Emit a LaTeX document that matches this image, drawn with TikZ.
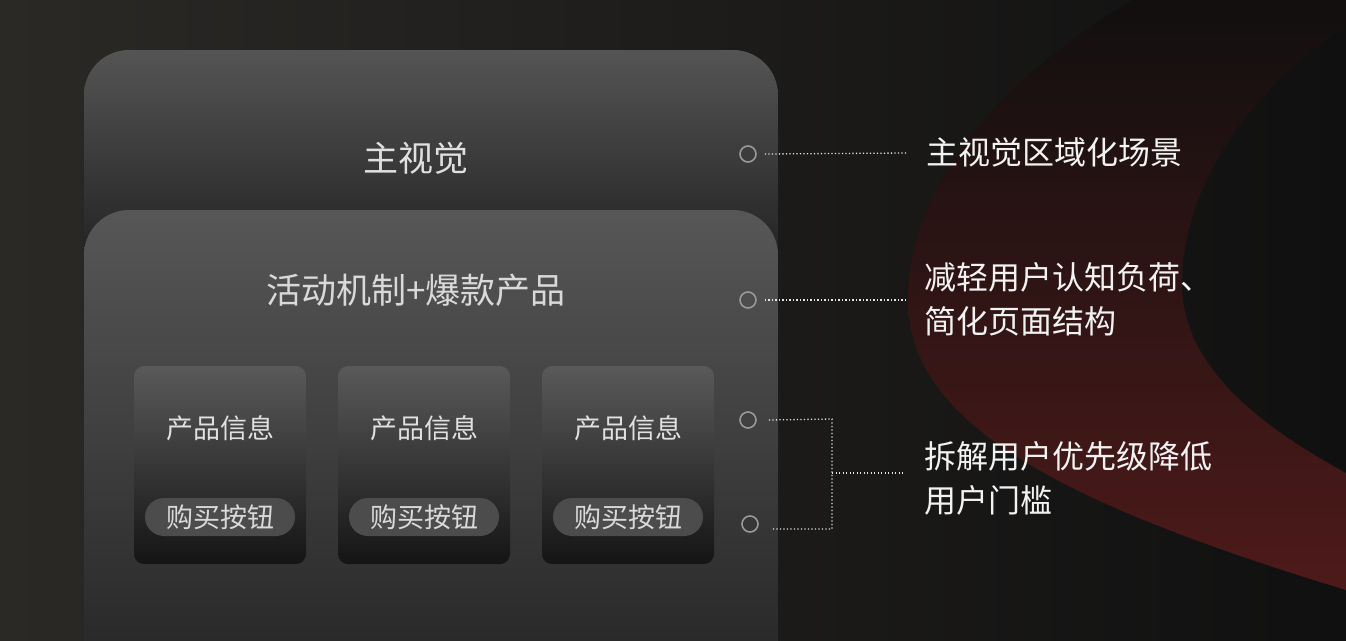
\documentclass[tikz,border=0pt]{standalone}
\usepackage{fontspec}
\setmainfont{Noto Sans CJK SC}
\definecolor{bgl}{RGB}{43,41,38}
\definecolor{bgr}{RGB}{16,16,16}
\definecolor{redl}{RGB}{78,26,26}
\definecolor{redd}{RGB}{18,15,15}
\begin{document}
\begin{tikzpicture}[x=1pt,y=-1pt,
  circ/.style={draw=black!40!white,line width=1.6pt,circle,minimum size=16pt,inner sep=0pt},
  dots/.style={draw=white!90!black,line width=1.3pt,dash pattern=on 1.3pt off 2.2pt},
  card/.style={rounded corners=10pt},
  btn/.style={fill=white!30!black,rounded corners=19pt,minimum width=150pt,minimum height=38pt,text=white!85!black,font=\fontsize{27}{30}\selectfont},
  info/.style={text=white!88!black,font=\fontsize{27}{30}\selectfont},
  lab/.style={text=white!95!black,font=\fontsize{32}{44}\selectfont,anchor=west,align=left,inner sep=0pt}]
\useasboundingbox (0,0) rectangle (1346,640);
\shade[left color=bgl,right color=bgr] (0,0) rectangle (1346,640);
\shade[shading=axis,shading angle=-45,top color=redd,bottom color=redl]
  (1133,0) .. controls (980,90) and (908,200) .. (908,300)
  .. controls (908,420) and (1050,500) .. (1346,590) -- (1346,473)
  .. controls (1230,410) and (1182,350) .. (1182,283)
  .. controls (1182,180) and (1260,80) .. (1346,27) -- (1346,0) -- cycle;
\shade[top color=white!33!black,bottom color=black!90!white,rounded corners=45pt] (84,50) rectangle (778,300);
\shade[top color=white!34!black,bottom color=black!86!white,rounded corners=45pt] (84,210) -- (84,700) -- (778,700) -- (778,210) -- cycle;
\node[text=white!88!black,font=\fontsize{35}{40}\selectfont] (hv) at (416,158) {主视觉};
\node[text=white!85!black,font=\fontsize{35}{40}\selectfont] (mech) at (416,290) {活动机制+爆款产品};
\foreach \x/\n in {220/a,424/b,628/c}{
  \shade[card,top color=white!35!black,bottom color=black!92] (\x-86,366) rectangle (\x+86,564);
  \node[info] (info\n) at (\x,428) {产品信息};
  \node[btn] (btn\n) at (\x,517) {购买按钮};
}
\node[circ] (c1) at (748,154) {};
\node[circ] (c2) at (748,300) {};
\node[circ] (c3) at (748,420) {};
\node[circ] (c4) at (750,524) {};
\node[lab] (l1) at (926,152) {主视觉区域化场景};
\node[lab] (l2) at (924,299) {减轻用户认知负荷、\\简化页面结构};
\node[lab] (l3) at (924,478) {拆解用户优先级降低\\用户门槛};
\coordinate (j1) at (832,419);
\coordinate (j2) at (832,529);
\coordinate (j3) at (832,473);
\coordinate (e4) at (772,529);
\draw[dots] ([xshift=8pt]c1.east) -- (906,153);
\draw[dots] ([xshift=8pt]c2.east) -- (906,300);
\draw[dots] ([xshift=12pt]c3.east) -- (j1) -- (j2) -- (e4);
\draw[dots] (j3) -- (903,473);
\end{tikzpicture}
\end{document}
